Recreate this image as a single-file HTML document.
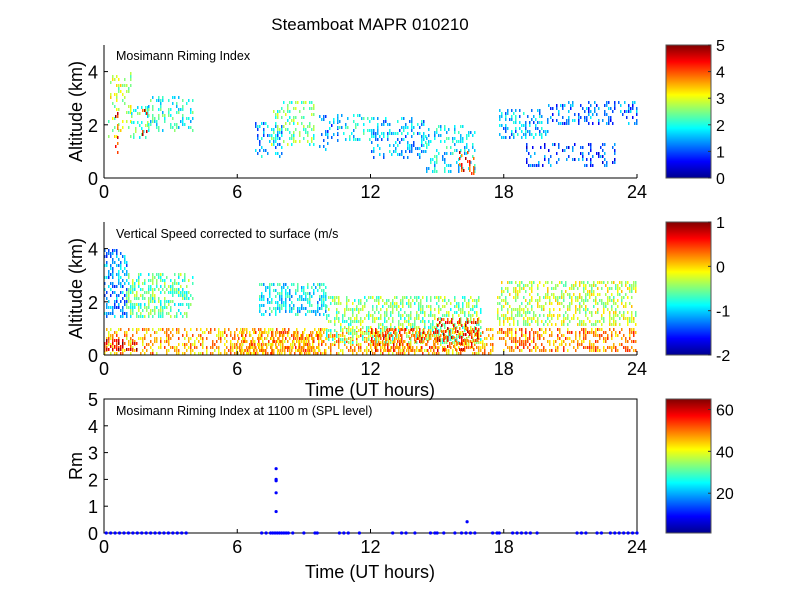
<!DOCTYPE html>
<html><head><meta charset="utf-8"><style>
body{margin:0;background:#fff}
svg text{font-family:"Liberation Sans",Arial,sans-serif;fill:#000}
</style></head><body>
<svg id="fig" width="800" height="600" xmlns="http://www.w3.org/2000/svg">
<defs>
<linearGradient id="jet" x1="0" y1="1" x2="0" y2="0">
<stop offset="0" stop-color="#00008f"/><stop offset="0.125" stop-color="#0000ff"/>
<stop offset="0.375" stop-color="#00ffff"/><stop offset="0.625" stop-color="#ffff00"/>
<stop offset="0.875" stop-color="#ff0000"/><stop offset="1" stop-color="#800000"/>
</linearGradient>
</defs>
<rect width="800" height="600" fill="#fff"/>
<text x="370" y="30" font-size="17" text-anchor="middle">Steamboat MAPR 010210</text>
<g id="g1"></g>
<g id="g2"></g>
<g id="g3"></g>
</svg>
<script>
// ---- data ----
const xTicks=[0,6,12,18,24];
const altTicks=[0,2,4];
const rmTicks=[0,1,2,3,4,5];
// panel 1 patches: start time, end time, low alt, high alt, riming value
const p1T0=[0.2,1.2,2.0,6.8,7.5,9.7,10.5,12.0,14.5,16.0,17.8,20.0,19.0,0.5,1.7];
const p1T1=[1.2,2.0,4.0,8.0,9.5,10.5,12.0,14.5,16.7,16.7,20.0,24.0,23.0,0.6,1.9];
const p1A0=[1.6,1.5,1.8,0.8,1.3,1.1,1.5,0.8,0.3,0.2,1.5,2.0,0.5,0.5,1.5];
const p1A1=[4.0,2.7,3.1,2.1,2.9,2.5,2.4,2.3,2.0,1.0,2.6,2.9,1.3,2.5,2.6];
const p1V=[2.8,2.2,2.0,1.5,2.4,1.3,1.8,1.5,1.8,4.2,1.5,1.2,1.0,4.3,4.4];
const p1Ticks=[0,1,2,3,4,5];
// panel 2 patches: vertical speed (m/s)
const p2T0=[0.0,0.0,0.0,1.0,7.0,10.0,17.7,17.7,6.0,12.0,15.0];
const p2T1=[1.0,17.5,1.5,4.0,10.0,17.0,24.0,24.0,10.0,15.0,16.8];
const p2A0=[1.5,0.1,0.2,1.5,1.5,0.5,0.2,1.2,0.1,0.2,0.2];
const p2A1=[4.0,1.0,0.6,3.1,2.7,2.2,1.0,2.8,0.9,1.0,1.4];
const p2V=[-1.2,0.1,0.7,-0.6,-0.9,-0.5,0.2,-0.3,0.2,0.4,0.5];
const p2Ticks=[-2,-1,0,1];
// panel 3 points
const rmTimes=[0.1,0.3,0.5,0.7,0.9,1.1,1.3,1.5,1.7,1.9,2.1,2.3,2.5,2.7,2.9,3.1,3.3,3.5,3.7,7.1,7.3,7.5,7.6,7.7,7.8,7.9,8.0,8.1,8.2,8.3,8.5,9.0,9.5,9.6,10.6,10.8,11.0,11.5,13.0,13.4,13.6,14.0,14.7,14.9,15.0,15.3,15.8,16.1,16.3,16.5,16.7,17.5,17.7,17.8,18.4,18.6,18.8,19.0,19.2,19.5,21.3,21.5,21.7,22.2,22.4,22.8,23.0,23.2,23.4,23.6,23.8,24.0,7.75,7.75,7.75,7.75,7.75,16.35];
const rmValues=[0,0,0,0,0,0,0,0,0,0,0,0,0,0,0,0,0,0,0,0,0,0,0,0,0,0,0,0,0,0,0,0,0,0,0,0,0,0,0,0,0,0,0,0,0,0,0,0,0,0,0,0,0,0,0,0,0,0,0,0,0,0,0,0,0,0,0,0,0,0,0,0,2.4,2.0,1.95,1.5,0.8,0.42];
const p3Ticks=[20,40,60];

const NS="http://www.w3.org/2000/svg";
const AX={x0:104,x1:637};
const CB={x0:666,x1:711};
function el(p,tag,a,txt){const e=document.createElementNS(NS,tag);for(const k in a)e.setAttribute(k,a[k]);if(txt!=null)e.textContent=txt;p.appendChild(e);return e;}
function xs(t){return AX.x0+t/24*(AX.x1-AX.x0);}
function jet(f){f=Math.max(0,Math.min(1,f));
 const r=Math.max(0,Math.min(1,1.5-Math.abs(4*f-3))),g=Math.max(0,Math.min(1,1.5-Math.abs(4*f-2))),b=Math.max(0,Math.min(1,1.5-Math.abs(4*f-1)));
 return `rgb(${Math.round(r*255)},${Math.round(g*255)},${Math.round(b*255)})`;}
function hash(a,b){let h=(a*374761393+b*668265263)|0;h=(h^(h>>>13))*1274126177|0;return ((h^(h>>>16))>>>0)/4294967296;}

function axes(g,y0,y1,ymax,yt,ylabel,name){
 el(g,'line',{x1:AX.x0,y1:y0,x2:AX.x0,y2:y1,stroke:'#000','stroke-width':1});
 el(g,'line',{x1:AX.x0,y1:y1,x2:AX.x1,y2:y1,stroke:'#000','stroke-width':1});
 for(const t of xTicks){const x=xs(t);
  el(g,'line',{x1:x,y1:y1,x2:x,y2:y1-4,stroke:'#000'});
  const tx=el(g,'text',{x:x,y:y1+20,'font-size':18,'text-anchor':'middle'},t);
  }
 for(const v of yt){const y=y1-v/ymax*(y1-y0);
  el(g,'line',{x1:AX.x0,y1:y,x2:AX.x0+4,y2:y,stroke:'#000'});
  const tx=el(g,'text',{x:AX.x0-6,y:y+7,'font-size':18,'text-anchor':'end'},v);
  }
 const yl=el(g,'text',{x:0,y:0,'font-size':18,'text-anchor':'middle',transform:`translate(${ylabel[1]},${(y0+y1)/2}) rotate(-90)`},ylabel[0]);
 
}
function colorbar(g,y0,y1,vmin,vmax,ticks){
 const r=el(g,'rect',{x:CB.x0,y:y0,width:CB.x1-CB.x0,height:y1-y0,fill:'url(#jet)',stroke:'#555'});
 
 for(const v of ticks){const y=y1-(v-vmin)/(vmax-vmin)*(y1-y0);
  el(g,'line',{x1:CB.x1-3,y1:y,x2:CB.x1,y2:y,stroke:'#333'});
  const tx=el(g,'text',{x:CB.x1+5,y:y+6,'font-size':16},v);
  }
}
function patches(g,y0,y1,T0,T1,A0,A1,V,vmin,vmax,dens,seed){
 const ys=a=>y1-a/5*(y1-y0);
 for(let i=0;i<V.length;i++){
  const xa=xs(T0[i]),xb=xs(T1[i]),ya=ys(A1[i]),yb=ys(A0[i]);
  for(let x=Math.round(xa);x<xb;x+=2){for(let y=Math.round(ya);y<yb;y+=3){
   const h=hash(x+seed,y+i*7);if(h>dens)continue;
   const v=V[i]+(hash(y,x+seed)-0.5)*(vmax-vmin)*0.25;
   const c=el(g,'rect',{x:x,y:y,width:1.5,height:3,fill:jet((v-vmin)/(vmax-vmin))});
   
   
  }}
 }
}
const g1=document.getElementById('g1'),g2=document.getElementById('g2'),g3=document.getElementById('g3');
// panel 1
patches(g1,45,178,p1T0,p1T1,p1A0,p1A1,p1V,0,5,0.3,11);
axes(g1,45,178,5,altTicks,['Altitude (km)',82],'p1');
el(g1,'text',{x:116,y:60,'font-size':12.5},'Mosimann Riming Index');
colorbar(g1,45,178,0,5,p1Ticks);
// panel 2
patches(g2,222,355,p2T0,p2T1,p2A0,p2A1,p2V,-2,1,0.45,5);
axes(g2,222,355,5,altTicks,['Altitude (km)',82],'p2');
el(g2,'text',{x:116,y:238,'font-size':12.5},'Vertical Speed corrected to surface (m/s');
el(g2,'text',{x:370,y:396,'font-size':18,'text-anchor':'middle'},'Time (UT hours)');
colorbar(g2,222,355,-2,1,p2Ticks);
// panel 3
el(g3,'rect',{x:AX.x0,y:399,width:AX.x1-AX.x0,height:134,fill:'none',stroke:'#000'});
axes(g3,399,533,5,rmTicks,['Rm',82],'p3');
el(g3,'text',{x:116,y:415,'font-size':12.5},'Mosimann Riming Index at 1100 m (SPL level)');
for(let i=0;i<rmTimes.length;i++){
 const c=el(g3,'circle',{cx:xs(rmTimes[i]),cy:533-rmValues[i]/5*134,r:1.6,fill:'#0000ff'});
 
 
}
el(g3,'text',{x:370,y:578,'font-size':18,'text-anchor':'middle'},'Time (UT hours)');
colorbar(g3,399,533,1,65,p3Ticks);
</script>
</body></html>
